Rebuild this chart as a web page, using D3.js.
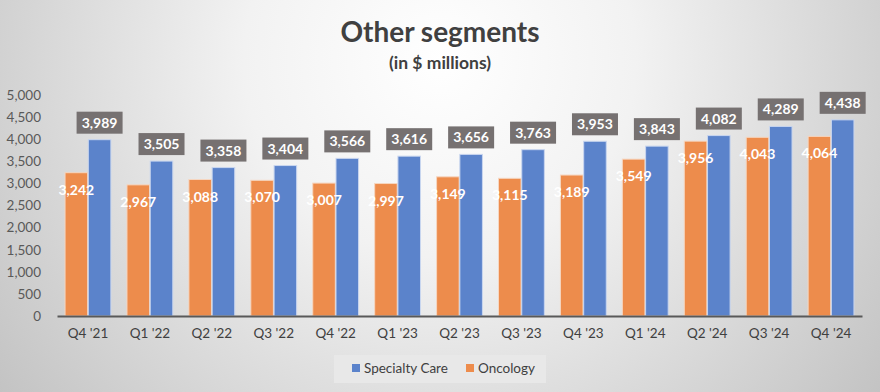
<!DOCTYPE html>
<html><head><meta charset="utf-8">
<script src="https://cdn.jsdelivr.net/npm/d3@7"></script>
<style>html,body{margin:0;padding:0;}svg{display:block;}</style>
</head><body>
<script>
const categories = ["Q4 '21","Q1 '22","Q2 '22","Q3 '22","Q4 '22","Q1 '23","Q2 '23","Q3 '23","Q4 '23","Q1 '24","Q2 '24","Q3 '24","Q4 '24"];
const oncology = [3242,2967,3088,3070,3007,2997,3149,3115,3189,3549,3956,4043,4064];
const specialtyCare = [3989,3505,3358,3404,3566,3616,3656,3763,3953,3843,4082,4289,4438];
const yTicks = [0,500,1000,1500,2000,2500,3000,3500,4000,4500,5000];
const title = "Other segments";
const subtitle = "(in $ millions)";
const seriesNames = ["Specialty Care","Oncology"];

const W=880,H=392;
const font="Lato, 'Open Sans', sans-serif";
const cOr="#ED8C4C", cBl="#5B83CB";
const svg=d3.select("body").append("svg").attr("width",W).attr("height",H);
const defs=svg.append("defs");
const rg=defs.append("radialGradient").attr("id","bg").attr("gradientUnits","userSpaceOnUse")
  .attr("cx",440).attr("cy",60).attr("r",560);
rg.append("stop").attr("offset","0").attr("stop-color","#ffffff");
rg.append("stop").attr("offset","0.35").attr("stop-color","#f2f2f2");
rg.append("stop").attr("offset","1").attr("stop-color","#c2c2c2");
svg.append("rect").attr("width",W).attr("height",H).attr("fill","url(#bg)");

svg.append("text").attr("x",440).attr("y",42).attr("text-anchor","middle")
  .attr("font-family",font).attr("font-weight","bold").attr("font-size",28).attr("fill","#404040").text(title);
svg.append("text").attr("x",440).attr("y",69).attr("text-anchor","middle")
  .attr("font-family",font).attr("font-weight","bold").attr("font-size",17.5).attr("fill","#404040").text(subtitle);

const x=d3.scaleBand().domain(categories).range([57,862]).paddingInner(0.26).paddingOuter(0.13);
const y=d3.scaleLinear().domain([0,5000]).range([316,95]);
const xs=d3.scaleBand().domain(["o","b"]).range([0,x.bandwidth()]).paddingInner(0.03);

// y axis labels
const ya=svg.append("g").attr("transform","translate(44,0)").call(d3.axisLeft(y).tickValues(yTicks).tickSize(0).tickFormat(d3.format(",")));
ya.select(".domain").remove();
ya.selectAll("text").attr("font-family",font).attr("font-size",13.5).attr("fill","#595959").attr("dx",0);

const g=svg.append("g");
categories.forEach((c,i)=>{
  const x0=x(c);
  g.append("rect").attr("x",x0+xs("o")).attr("y",y(oncology[i])).attr("width",xs.bandwidth()).attr("height",y(0)-y(oncology[i]))
    .attr("fill",cOr).attr("stroke","#f6d6c0").attr("stroke-width",1);
  g.append("rect").attr("x",x0+xs("b")).attr("y",y(specialtyCare[i])).attr("width",xs.bandwidth()).attr("height",y(0)-y(specialtyCare[i]))
    .attr("fill",cBl).attr("stroke","#c9d6ef").attr("stroke-width",1);
});

// x axis
const xa=svg.append("g").attr("transform","translate(0,316)").call(d3.axisBottom(x).tickSize(0).tickPadding(12));
xa.select(".domain").attr("stroke","#595959").attr("stroke-width",2);
xa.selectAll("text").attr("font-family",font).attr("font-size",13.5).attr("fill","#404040");

// labels
const fmt=d3.format(",");
categories.forEach((c,i)=>{
  const x0=x(c);
  const ox=x0+xs("o")+xs.bandwidth()/2;
  g.append("text").attr("x",ox).attr("y",y(oncology[i])+22).attr("text-anchor","middle")
    .attr("font-family",font).attr("font-weight","bold").attr("font-size",14).attr("fill","#ffffff").text(fmt(oncology[i]));
  const bx=x0+xs("b")+xs.bandwidth()/2;
  const by=y(specialtyCare[i]);
  g.append("rect").attr("x",bx-23).attr("y",by-28).attr("width",46).attr("height",22).attr("fill","#767171");
  g.append("text").attr("x",bx).attr("y",by-12).attr("text-anchor","middle")
    .attr("font-family",font).attr("font-weight","bold").attr("font-size",14).attr("fill","#ffffff").text(fmt(specialtyCare[i]));
});

// legend
const lg=svg.append("g");
lg.append("rect").attr("x",334).attr("y",355).attr("width",212).attr("height",28).attr("fill","#e8e8e8");
[[seriesNames[0],cBl,352],[seriesNames[1],cOr,466]].forEach(([n,col,lx])=>{
  lg.append("rect").attr("x",lx).attr("y",364).attr("width",8).attr("height",8).attr("fill",col);
  lg.append("text").attr("x",lx+12).attr("y",373).attr("font-family",font).attr("font-size",13.5).attr("fill","#404040").text(n);
});
</script>
</body></html>
